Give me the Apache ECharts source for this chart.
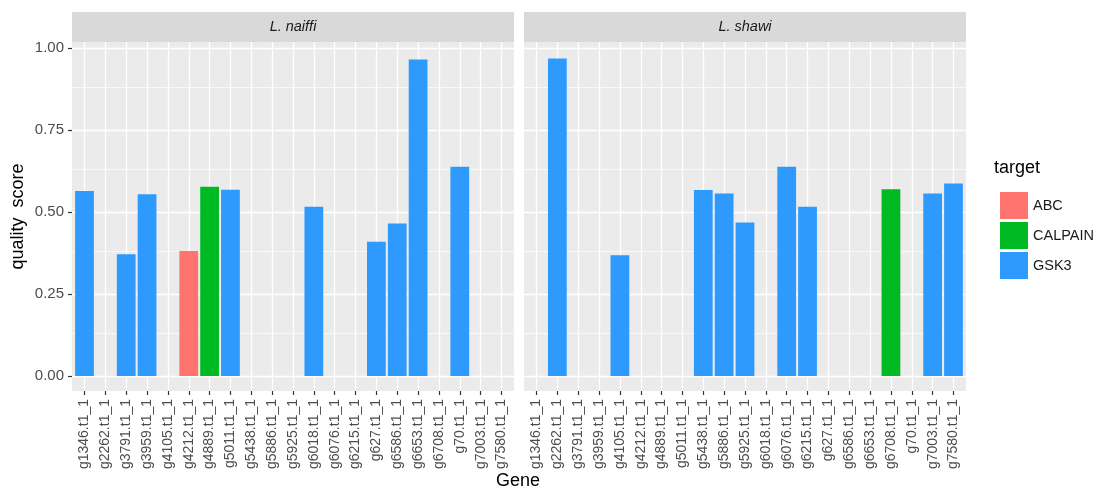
<!DOCTYPE html>
<html>
<head>
<meta charset="utf-8">
<script src="https://cdn.jsdelivr.net/npm/echarts@6/dist/echarts.min.js"></script>
<style>
html,body{margin:0;padding:0;background:#fff;}
#main{width:1099px;height:489px;}
</style>
</head>
<body>
<div id="main"></div>
<script>
// genes (same order in both panels)
var genes = ['g1346.t1_1','g2262.t1_1','g3791.t1_1','g3959.t1_1','g4105.t1_1','g4212.t1_1','g4889.t1_1',
	'g5011.t1_1','g5438.t1_1','g5886.t1_1','g5925.t1_1','g6018.t1_1','g6076.t1_1','g6215.t1_1',
	'g627.t1_1','g6586.t1_1','g6653.t1_1','g6708.t1_1','g70.t1_1','g7003.t1_1','g7580.t1_1'];
var panels = ['L. naiffi', 'L. shawi'];
var targets = ['ABC', 'CALPAIN', 'GSK3'];
var targetColors = ['#FF746F', '#00BA23', '#2E9AFE'];

// quality score per gene, 0 = no bar
var naiffiScore = [0.564,0,0.371,0.554,0,0.381,0.577,0.568,0,0,0,0.516,0,0,0.409,0.465,0.965,0,0.638,0,0];
var naiffiTarget = ['GSK3','','GSK3','GSK3','','ABC','CALPAIN','GSK3','','','','GSK3','','','GSK3','GSK3','GSK3','','GSK3','',''];
var shawiScore = [0,0.968,0,0,0.368,0,0,0,0.567,0.556,0.468,0,0.638,0.516,0,0,0,0.569,0,0.556,0.587];
var shawiTarget = ['','GSK3','','','GSK3','','','','GSK3','GSK3','GSK3','','GSK3','GSK3','','','','CALPAIN','','GSK3','GSK3'];

var yTicks = [0, 0.25, 0.5, 0.75, 1];
var yMinor = [0.125, 0.375, 0.625, 0.875];

var panelLeft = [72, 524];
var panelWidth = 442;
var fontName = 'Liberation Sans, Arial, sans-serif';

var chart = echarts.init(document.getElementById('main'));

function each(arr, fn){
	for (var i = 0; i < arr.length; i++) fn(i, arr[i]);
}
/*
 * 一个分面的系列：次网格线 + 每个target一个柱状系列
 */
function seriesFor(score, target, idx){
	var list = [];
	list.push({
		type: 'line',
		xAxisIndex: idx,
		yAxisIndex: idx,
		data: [],
		silent: true,
		z: 1,
		markLine: {
			silent: true,
			z: 1,
			symbol: 'none',
			label: {show: false},
			animation: false,
			lineStyle: {color: '#ffffff', width: 0.7, type: 'solid'},
			data: yMinor.map(function(v){ return {yAxis: v}; })
		}
	});
	each(targets, function(k, t){
		var data = [];
		each(score, function(i, v){
			if (target[i] == t && v > 0) data.push([i, v]);
		});
		list.push({
			name: t,
			type: 'bar',
			xAxisIndex: idx,
			yAxisIndex: idx,
			barWidth: '90%',
			barGap: '-100%',
			z: 3,
			itemStyle: {color: targetColors[k]},
			data: data
		});
	});
	return list;
}

var geneIdx = genes.map(function(g, i){ return i; });
var grids = [], xAxes = [], yAxes = [], series = [], graphics = [];
each(panels, function(k, p){
	grids.push({
		left: panelLeft[k],
		top: 42,
		width: panelWidth,
		height: 349,
		show: true,
		backgroundColor: '#ebebeb',
		borderWidth: 0
	});
	xAxes.push({
		type: 'value',
		gridIndex: k,
		position: 'bottom',
		min: -0.6,
		max: genes.length - 0.4,
		axisLine: {show: false, onZero: false},
		axisTick: {show: true, length: 4, customValues: geneIdx, lineStyle: {color: '#333333', width: 1.2}},
		axisLabel: {
			rotate: 90, fontSize: 14, color: '#4d4d4d', margin: 8, fontFamily: fontName,
			customValues: geneIdx,
			formatter: function(v){ return genes[Math.round(v)]; }
		},
		splitLine: {show: true, lineStyle: {color: '#ffffff', width: 1.3}}
	});
	yAxes.push({
		type: 'value',
		gridIndex: k,
		position: 'left',
		min: -0.0457,
		max: 1.018,
		name: k == 0 ? 'quality  score' : '',
		nameLocation: 'middle',
		nameGap: 45,
		nameTextStyle: {fontSize: 18, color: '#000', fontFamily: fontName},
		axisLine: {show: false, onZero: false},
		axisTick: {show: k == 0, length: 4, customValues: yTicks, lineStyle: {color: '#333333', width: 1.2}},
		axisLabel: {
			show: k == 0,
			customValues: yTicks,
			fontSize: 15,
			color: '#4d4d4d',
			margin: 8,
			fontFamily: fontName,
			formatter: function(v){ return v.toFixed(2); }
		},
		splitLine: {show: true, lineStyle: {color: '#ffffff', width: 1.4}}
	});
	series = series.concat(seriesFor(k == 0 ? naiffiScore : shawiScore, k == 0 ? naiffiTarget : shawiTarget, k));
	// 分面标题条
	graphics.push({
		type: 'rect',
		shape: {x: panelLeft[k], y: 12, width: panelWidth, height: 30},
		style: {fill: '#d9d9d9'},
		silent: true
	});
	graphics.push({
		type: 'text',
		x: panelLeft[k] + panelWidth / 2,
		y: 27,
		style: {text: p, fontSize: 14.5, fontStyle: 'italic', fill: '#1a1a1a', align: 'center', verticalAlign: 'middle', fontFamily: fontName},
		silent: true
	});
});
graphics.push({
	type: 'text',
	x: 518,
	y: 481,
	style: {text: 'Gene', fontSize: 18, fill: '#000', align: 'center', verticalAlign: 'middle', fontFamily: fontName},
	silent: true
});
graphics.push({
	type: 'text',
	x: 994,
	y: 168,
	style: {text: 'target', fontSize: 18, fill: '#000', align: 'left', verticalAlign: 'middle', fontFamily: fontName},
	silent: true
});

var option = {
	animation: false,
	backgroundColor: '#ffffff',
	grid: grids,
	xAxis: xAxes,
	yAxis: yAxes,
	legend: {
		data: targets,
		orient: 'vertical',
		left: 995,
		top: 187,
		icon: 'rect',
		itemWidth: 28,
		itemHeight: 27,
		itemGap: 3,
		selectedMode: false,
		textStyle: {fontSize: 14.5, color: '#1a1a1a', fontFamily: fontName}
	},
	graphic: graphics,
	series: series
};
chart.setOption(option);
</script>
</body>
</html>
